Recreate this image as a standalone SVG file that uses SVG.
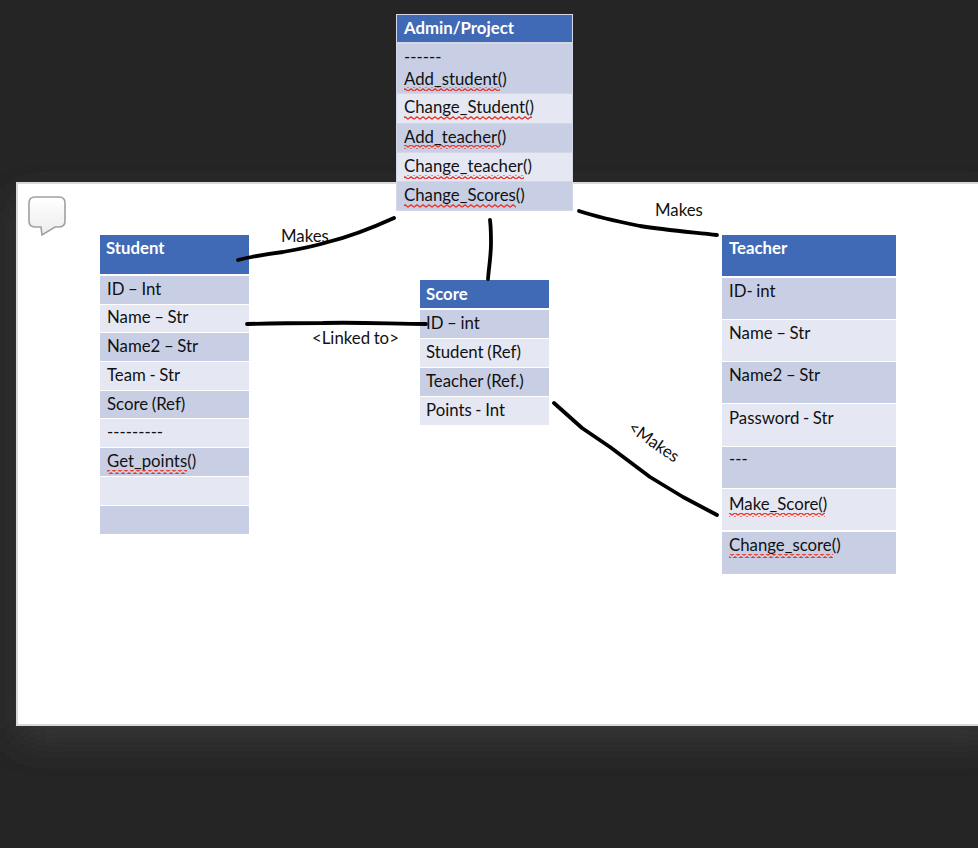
<svg xmlns="http://www.w3.org/2000/svg" width="978" height="848" viewBox="0 0 978 848">
<style>
text{font-family:Lato,"Open Sans","Liberation Sans",sans-serif;font-size:16.8px;word-spacing:-.7px;fill:#111}
.h{fill:#4069b6}.a{fill:#c8cfe4}.b{fill:#e5e8f3}
.ht{font-weight:700;fill:#fff}
.w{fill:url(#zig)}
.c{fill:none;stroke:#000;stroke-width:3.8;stroke-linecap:round;stroke-linejoin:round}
</style>
<defs>
<pattern id="zig" patternUnits="userSpaceOnUse" width="6" height="4"><path d="M0 3.2 L3 0.8 L6 3.2" fill="none" stroke="#e8392c" stroke-width="1.3"/></pattern>
<linearGradient id="bub" x1="0" y1="0" x2="0" y2="1"><stop offset="0" stop-color="#ffffff"/><stop offset="1" stop-color="#ececec"/></linearGradient>
<filter id="sh" x="-10%" y="-10%" width="120%" height="120%"><feGaussianBlur stdDeviation="18"/></filter>
</defs>
<rect width="978" height="848" fill="#252525"/>
<rect x="17" y="200" width="980" height="540" fill="#383838" filter="url(#sh)"/>
<rect x="17" y="183" width="963" height="542" fill="#fff" stroke="#d9d9d9" stroke-width="2"/>
<path id="comment" d="M35 197H59Q65 197 65 203V221Q65 227 59 227H55L42 235L41 227H35Q29 227 29 221V203Q29 197 35 197Z" fill="url(#bub)" stroke="#a0a0a0" stroke-width="1.6"/>
<g id="admin">
<rect x="396" y="14" width="177" height="197" fill="#d4d8e6"/>
<rect class="h" x="397" y="15" width="175" height="27"/>
<rect class="a" x="397" y="44" width="175" height="49"/>
<rect class="b" x="397" y="94" width="175" height="29"/>
<rect class="a" x="397" y="124" width="175" height="28"/>
<rect class="b" x="397" y="153" width="175" height="28"/>
<rect class="a" x="397" y="182" width="175" height="28"/>
<text class="ht" x="404" y="34">Admin/Project</text>
<text x="404" y="63">------</text>
<text x="404" y="85">Add_student()</text><rect class="w" x="404" y="87" width="96" height="4"/>
<text x="404" y="113">Change_Student()</text><rect class="w" x="404" y="116" width="128" height="4"/>
<text x="404" y="143">Add_teacher()</text><rect class="w" x="404" y="145" width="96" height="4"/>
<text x="404" y="172">Change_teacher()</text><rect class="w" x="404" y="175" width="120" height="4"/>
<text x="404" y="201">Change_Scores()</text><rect class="w" x="404" y="204" width="112" height="4"/>
</g>
<g id="student">
<rect class="h" x="100" y="235" width="149" height="39"/>
<rect class="a" x="100" y="276" width="149" height="28"/>
<rect class="b" x="100" y="305" width="149" height="27"/>
<rect class="a" x="100" y="333" width="149" height="28"/>
<rect class="b" x="100" y="362" width="149" height="28"/>
<rect class="a" x="100" y="391" width="149" height="27"/>
<rect class="b" x="100" y="419" width="149" height="28"/>
<rect class="a" x="100" y="448" width="149" height="28"/>
<rect class="b" x="100" y="477" width="149" height="28"/>
<rect class="a" x="100" y="506" width="149" height="28"/>
<text class="ht" x="106" y="254">Student</text>
<text x="107" y="295">ID – Int</text>
<text x="107" y="323">Name – Str</text>
<text x="107" y="352">Name2 – Str</text>
<text x="107" y="381">Team - Str</text>
<text x="107" y="410">Score (Ref)</text>
<text x="107" y="438">---------</text>
<text x="107" y="467">Get_points()</text><rect class="w" x="107" y="470" width="80" height="4"/>
</g>
<g id="score">
<rect class="h" x="420" y="280" width="129" height="28"/>
<rect class="a" x="420" y="310" width="129" height="28"/>
<rect class="b" x="420" y="339" width="129" height="28"/>
<rect class="a" x="420" y="368" width="129" height="28"/>
<rect class="b" x="420" y="397" width="129" height="28"/>
<text class="ht" x="426" y="300">Score</text>
<text x="426" y="329">ID – int</text>
<text x="426" y="358">Student (Ref)</text>
<text x="426" y="387">Teacher (Ref.)</text>
<text x="426" y="416">Points - Int</text>
</g>
<g id="teacher">
<rect class="h" x="722" y="235" width="174" height="41"/>
<rect class="a" x="722" y="278" width="174" height="41"/>
<rect class="b" x="722" y="320" width="174" height="41"/>
<rect class="a" x="722" y="362" width="174" height="41"/>
<rect class="b" x="722" y="404" width="174" height="42"/>
<rect class="a" x="722" y="447" width="174" height="41"/>
<rect class="b" x="722" y="489" width="174" height="41"/>
<rect class="a" x="722" y="532" width="174" height="42"/>
<text class="ht" x="729" y="254">Teacher</text>
<text x="729" y="297">ID- int</text>
<text x="729" y="339">Name – Str</text>
<text x="729" y="381">Name2 – Str</text>
<text x="729" y="424">Password - Str</text>
<text x="729" y="465">---</text>
<text x="729" y="510">Make_Score()</text><rect class="w" x="729" y="513" width="96" height="4"/>
<text x="729" y="551">Change_score()</text><rect class="w" x="729" y="554" width="104" height="4"/>
</g>
<g id="labels">
<text x="281" y="242">Makes</text>
<text x="655" y="216">Makes</text>
<text x="312" y="344">&lt;Linked to&gt;</text>
<text transform="translate(627 430) rotate(35)">&lt;Makes</text>
</g>
<g id="connectors">
<path class="c" d="M238 260C254 256 268 254 283 252C300 249 315 246 328 242C352 236 372 228 394 218"/>
<path class="c" d="M490 220C491 228 491 236 491 243C491 256 489 266 488 279"/>
<path class="c" d="M579 211C600 218 620 222 640 226C665 230 690 232 717 235"/>
<path class="c" d="M247 324C280 323 300 323 323 323C360 322 395 324 426 324"/>
<path class="c" d="M554 403L582 428L610 447L650 477L683 497L717 515"/>
</g>
</svg>
